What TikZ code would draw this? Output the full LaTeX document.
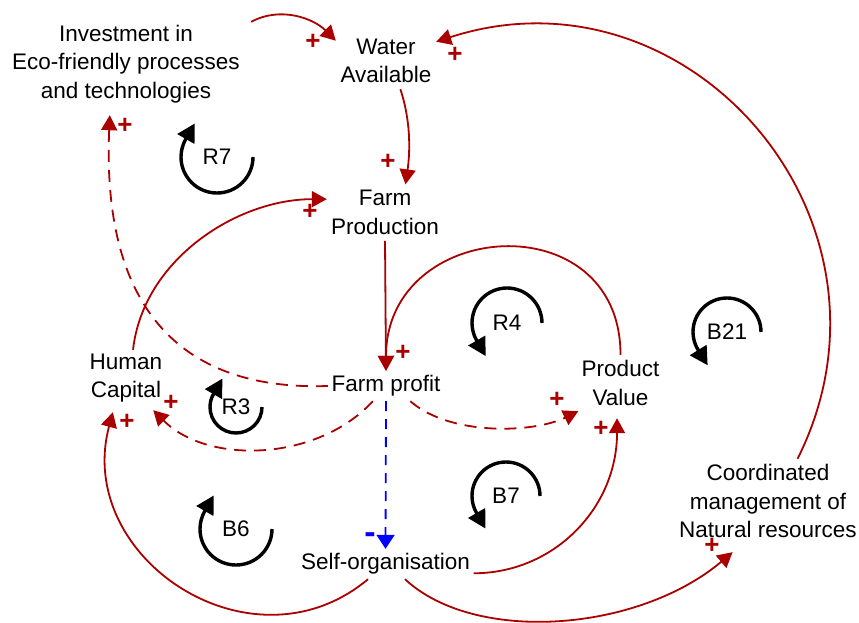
\documentclass[tikz,border=0pt]{standalone}
\usepackage{fontspec}
\setmainfont{Liberation Sans}
\usetikzlibrary{arrows.meta}
\definecolor{linkred}{RGB}{170,0,0}
\definecolor{polblue}{RGB}{0,0,255}

\begin{document}
\begin{tikzpicture}[x=1pt,y=-1pt,
  var/.style={align=center, inner sep=0pt, text=black,
    font=\fontsize{22.5}{28.5}\selectfont},
  link/.style={draw=linkred, line width=1.8pt,
    -{Triangle[length=15pt,width=16pt]}},
  dlink/.style={link, dash pattern=on 12pt off 8pt},
  neglink/.style={draw=polblue, line width=1.8pt, dash pattern=on 10pt off 8pt,
    -{Triangle[length=14pt,width=18pt]}},
  pol/.style={text=linkred, inner sep=0pt,
    font=\fontsize{26}{26}\selectfont\bfseries},
  negpol/.style={text=polblue, inner sep=0pt,
    font=\fontsize{34}{34}\selectfont\bfseries},
  looplabel/.style={inner sep=0pt, font=\fontsize{22.5}{28.5}\selectfont},
  loopmark/.style={draw=black, line width=3.4pt,
    -{Triangle[length=18pt,width=19pt]}}
]
\useasboundingbox (0,0) rectangle (859,623);

% variables
\node[var, minimum width=250pt, minimum height=84pt] (inv) at (126,64)
  {Investment in\\Eco-friendly processes\\and technologies};
\node[var, minimum width=100pt, minimum height=56pt] (wa) at (386,61)
  {Water\\Available};
\node[var, minimum width=116pt, minimum height=56pt] (fprod) at (385,212.6)
  {Farm\\Production};
\node[var, minimum width=116pt, minimum height=30pt] (fprof) at (386,386)
  {Farm profit};
\node[var, minimum width=80pt, minimum height=56pt] (hc) at (126,378)
  {Human\\Capital};
\node[var, minimum width=84pt, minimum height=56pt] (pv) at (620.5,383)
  {Product\\Value};
\node[var, minimum width=176pt, minimum height=30pt] (so) at (385.5,564)
  {Self-organisation};
\node[var, minimum width=180pt, minimum height=84pt] (cm) at (768,501)
  {Coordinated\\management of\\Natural resources};

% causal links
\draw[link] (inv.north east) .. controls +(30,-16) and +(-22,-22) .. (wa.158);
\draw[link] (cm.55) .. controls +(119,-238) and +(253,-82) .. (wa.21);
\draw[link] (wa.-63) .. controls +(10,30) and +(5,-35) .. (fprod.54);
\draw[link] (hc.76) .. controls +(10,-90) and +(-90,0) .. (fprod.167);
\draw[link] (fprod.south) -- (fprof.north);
\draw[link] (pv.north) .. controls +(0,-153) and +(0,-153) .. (fprof.north);
\draw[dlink] (fprof.west) .. controls +(-150,5) and +(-8,190) .. ([yshift=-9pt]inv.-111);
\draw[dlink] (fprof.-131) .. controls +(-55,60) and +(55,55) .. ([yshift=-4pt]hc.-46);
\draw[dlink] (fprof.-32) .. controls +(40,35) and +(-45,22) .. (pv.south west);
\draw[neglink] (fprof.south) -- (so.north);
\draw[link] (so.-139) .. controls +(-116,97) and +(-39,146) .. ([yshift=-6pt]hc.-115);
\draw[link] (so.-6) .. controls +(80,0) and +(0,90) .. ([yshift=-7pt]pv.-97);
\draw[link] (so.-38) .. controls +(70,65) and +(-95,80) .. ([yshift=-9pt]cm.-130);

% link polarities
\node[pol] (p1) at (313,42) {+};
\node[pol] (p2) at (455,55) {+};
\node[pol] (p3) at (388,162) {+};
\node[pol] (p4) at (310,212) {+};
\node[pol] (p5) at (403,353) {+};
\node[pol] (p6) at (125,126) {+};
\node[pol] (p7) at (171,403) {+};
\node[pol] (p8) at (127,422) {+};
\node[pol] (p9) at (557,400) {+};
\node[pol] (p10) at (601,429) {+};
\node[pol] (p11) at (712,546) {+};
\node[negpol] (m1) at (370,538) {-};

% loop identifiers: circular arrows, head continuing along the tangent
\node[looplabel] (r7) at (217,157) {R7};
\draw[loopmark] ([shift={(36,0)}]r7.center)
  arc[start angle=0, end angle=210, radius=36] -- ++(9,-15.6);
\node[looplabel] (r3) at (236,407) {R3};
\draw[loopmark] ([shift={(26,0)}]r3.center)
  arc[start angle=0, end angle=212, radius=26] -- ++(8.5,-14.7);
\node[looplabel] (b6) at (236,529) {B6};
\draw[loopmark] ([shift={(36,0)}]b6.center)
  arc[start angle=0, end angle=210, radius=36] -- ++(9,-15.6);
\node[looplabel] (r4) at (507,323) {R4};
\draw[loopmark] ([shift={(35,0)}]r4.center)
  arc[start angle=0, end angle=-210, radius=35] -- ++(9,15.6);
\node[looplabel] (b21) at (727,332) {B21};
\draw[loopmark] ([shift={(34,0)}]b21.center)
  arc[start angle=0, end angle=-212, radius=34] -- ++(9.5,15.3);
\node[looplabel] (b7) at (506,496) {B7};
\draw[loopmark] ([shift={(34,0)}]b7.center)
  arc[start angle=0, end angle=-210, radius=34] -- ++(9,15.6);
\end{tikzpicture}
\end{document}
